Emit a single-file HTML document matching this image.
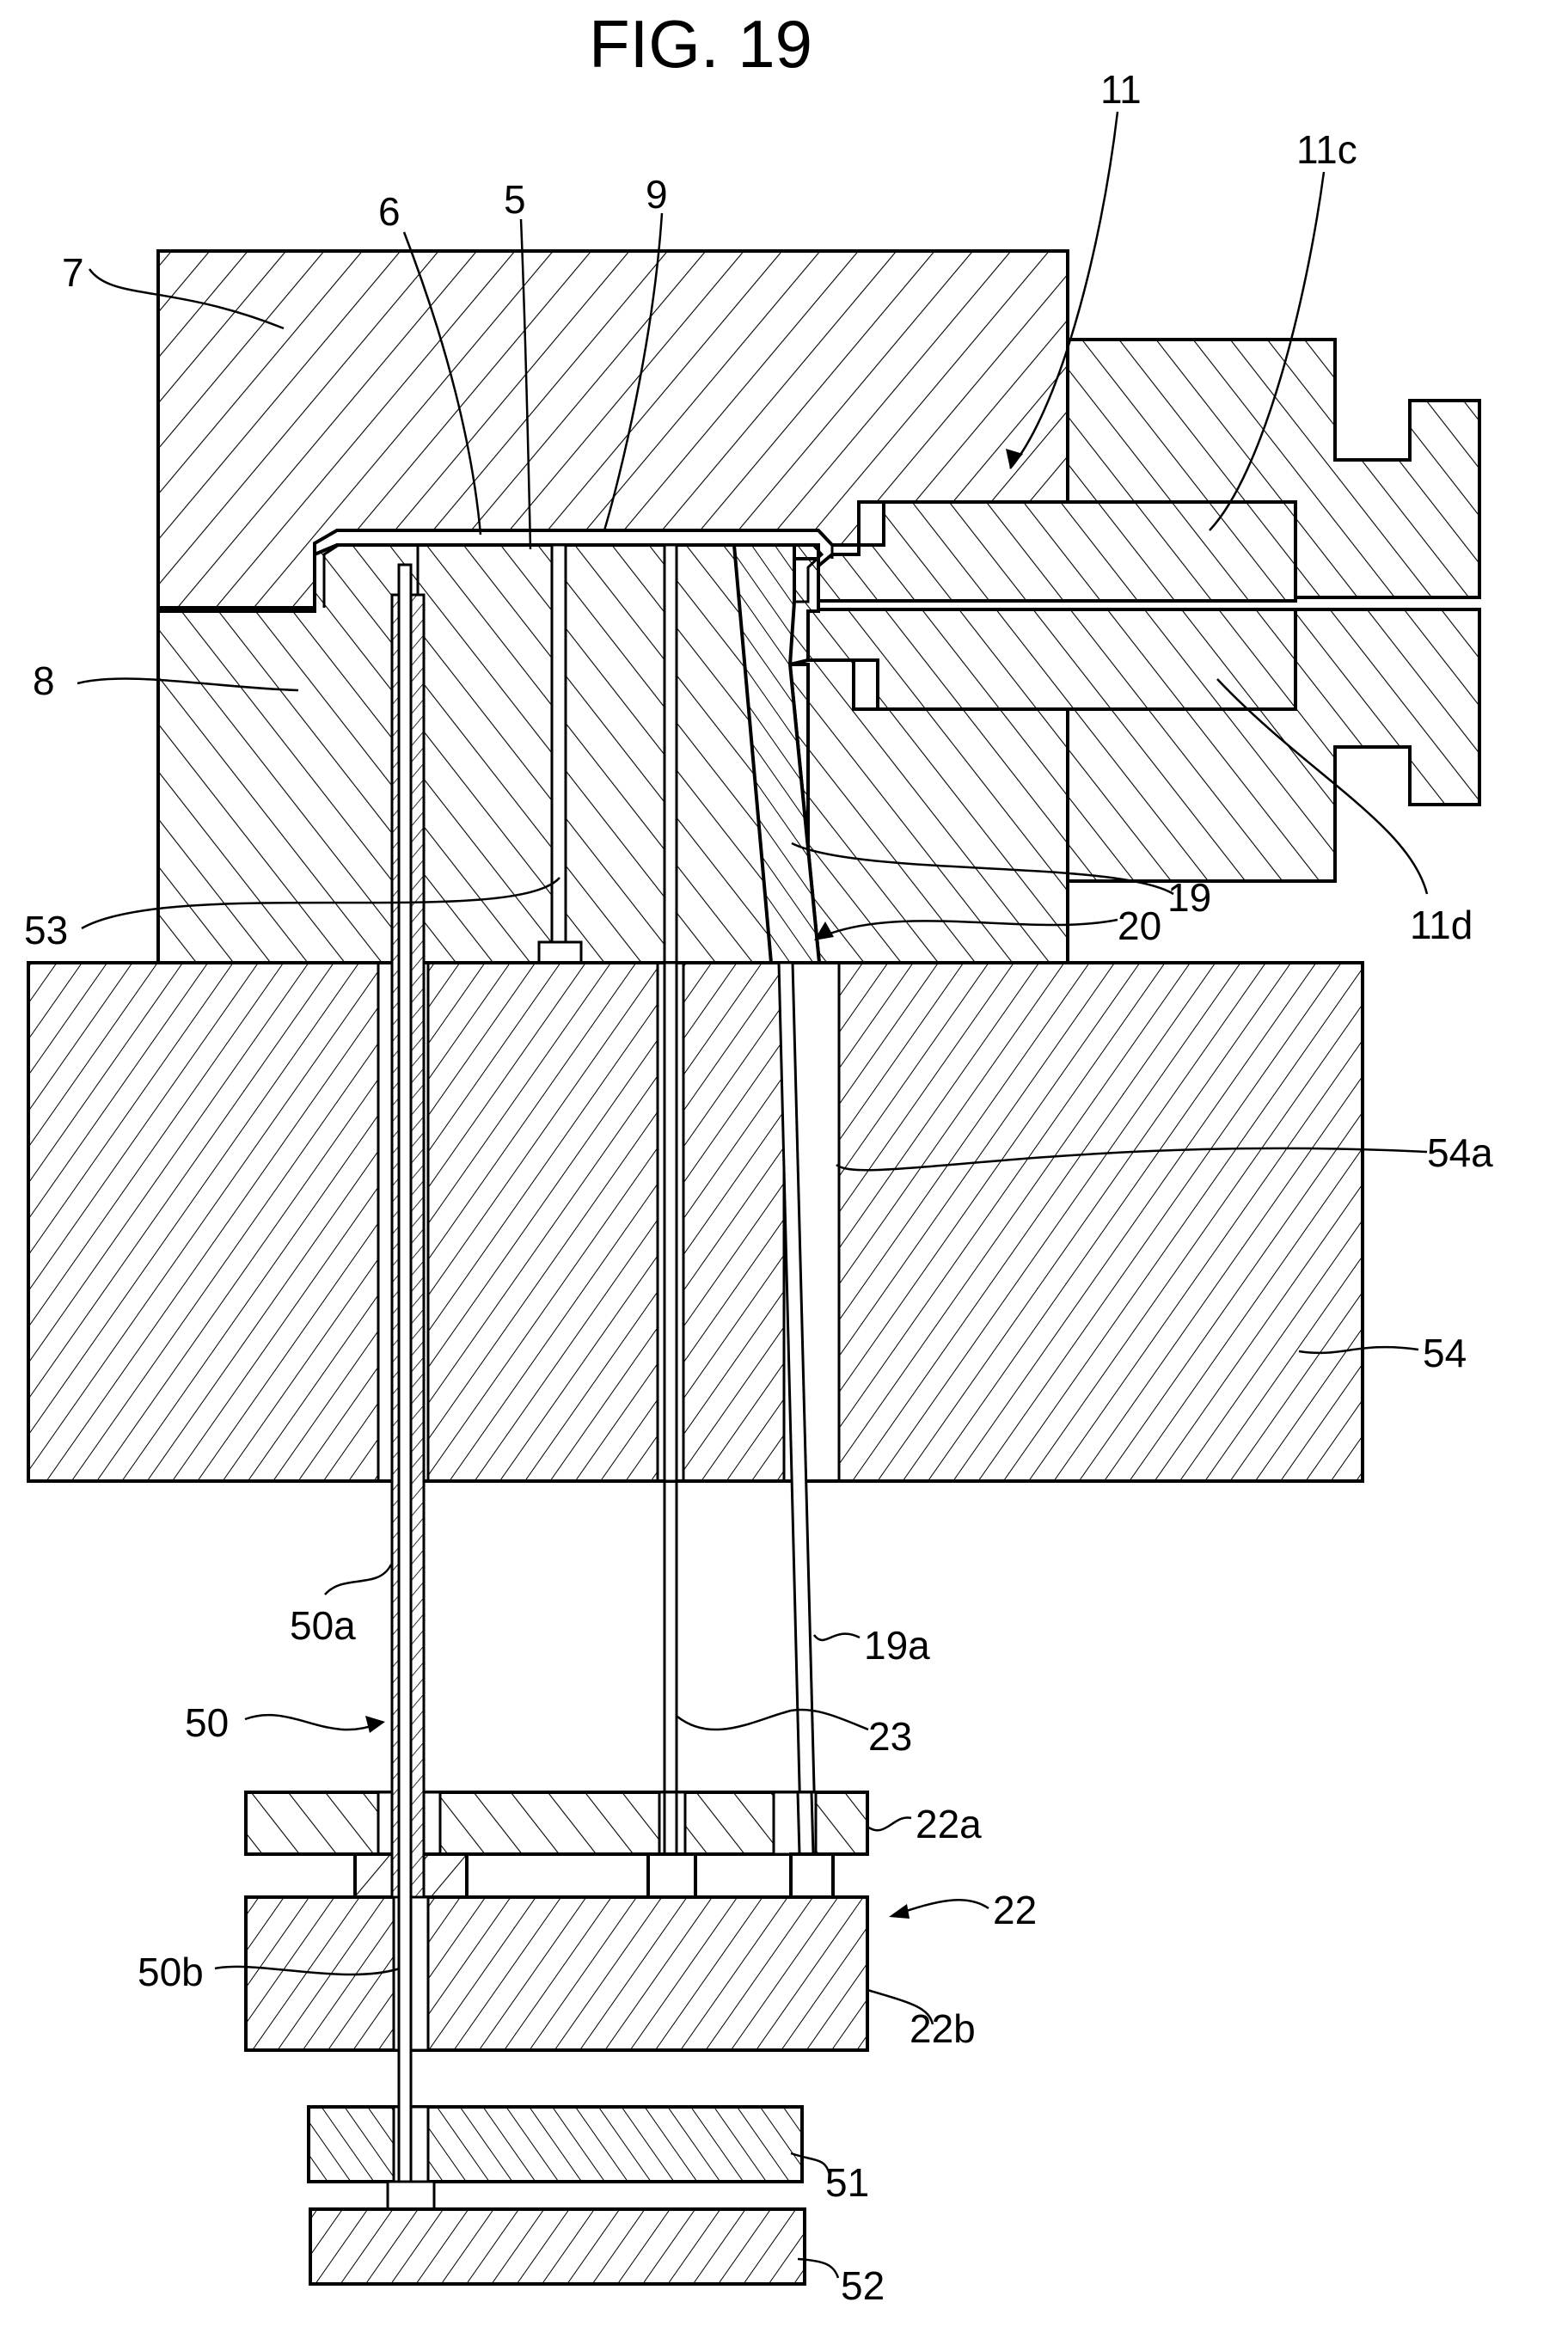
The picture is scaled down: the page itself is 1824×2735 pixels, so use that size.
<!DOCTYPE html>
<html><head><meta charset="utf-8"><style>html,body{margin:0;padding:0;background:#fff}svg{display:block}text{font-family:"Liberation Sans",sans-serif;fill:#000}</style></head>
<body>
<svg width="1824" height="2735" viewBox="0 0 1824 2735" xmlns="http://www.w3.org/2000/svg">
<defs>
<pattern id="hA" width="34" height="34" patternUnits="userSpaceOnUse" patternTransform="rotate(40)"><rect width="34" height="34" fill="#fff"/><line x1="0" y1="0" x2="0" y2="34" stroke="#000" stroke-width="2.2"/></pattern>
<pattern id="hB" width="34" height="34" patternUnits="userSpaceOnUse" patternTransform="rotate(-38)"><rect width="34" height="34" fill="#fff"/><line x1="0" y1="0" x2="0" y2="34" stroke="#000" stroke-width="2.2"/></pattern>
<pattern id="hC" width="24" height="24" patternUnits="userSpaceOnUse" patternTransform="rotate(35)"><rect width="24" height="24" fill="#fff"/><line x1="0" y1="0" x2="0" y2="24" stroke="#000" stroke-width="2"/></pattern>
<pattern id="hD" width="22" height="22" patternUnits="userSpaceOnUse" patternTransform="rotate(-35)"><rect width="22" height="22" fill="#fff"/><line x1="0" y1="0" x2="0" y2="22" stroke="#000" stroke-width="2"/></pattern>
<pattern id="hE" width="12" height="12" patternUnits="userSpaceOnUse" patternTransform="rotate(40)"><rect width="12" height="12" fill="#fff"/><line x1="0" y1="0" x2="0" y2="12" stroke="#000" stroke-width="1.6"/></pattern>
</defs>
<g stroke="#000" stroke-width="4" stroke-linejoin="miter">
<text x="815" y="78" font-size="78" text-anchor="middle" textLength="260" lengthAdjust="spacingAndGlyphs" stroke="none">FIG. 19</text>

<!-- block 7 -->
<polygon fill="url(#hA)" points="184,292 1242,292 1242,584 999,584 999,634 968,634 952,617 392,617 366,632 366,707 184,707"/>
<!-- upper right slider -->
<polygon fill="url(#hB)" points="1242,395 1553,395 1553,535 1640,535 1640,466 1721,466 1721,695 1242,695"/>
<!-- 11c -->
<polygon fill="url(#hB)" points="1028,584 1507,584 1507,699 950,699 950,660 968,645 999,645 999,634 1028,634"/>
<rect x="999" y="584" width="29" height="50" fill="#fff"/>
<!-- block 8 -->
<polygon fill="url(#hB)" points="184,711 366,711 366,645 392,634 952,634 952,711 993,711 993,825 1242,825 1242,1120 184,1120"/>
<!-- lower right slider -->
<polygon fill="url(#hB)" points="1242,709 1721,709 1721,936 1640,936 1640,869 1553,869 1553,1025 1242,1025"/>
<!-- 11d -->
<polygon fill="url(#hB)" points="940,709 1507,709 1507,825 1021,825 1021,768 940,768"/>
<rect x="993" y="768" width="28" height="57" fill="#fff"/>
<!-- part 20 -->
<polygon fill="url(#hB)" points="919,773 940,773 940,1120 953,1120" />
<polygon fill="url(#hB)" points="924,650 952,650 952,711 940,711 940,768 919,773"/>
<!-- lifter 19 -->
<polygon fill="url(#hD)" points="854,634 924,634 924,700 919,773 953,1120 897,1120"/>
<!-- product 9 -->
<polyline fill="none" stroke-width="3" points="366,707 366,632 392,617 952,617 968,634 968,650"/>
<polyline fill="none" stroke-width="3" points="377,707 377,645 394,634 946,634 956,645 940,660 940,700 924,700"/>
<line x1="486" y1="634" x2="486" y2="1120" stroke-width="3"/>
<!-- pin 5 / 53 -->
<rect x="642" y="634" width="16" height="462" fill="#fff" stroke-width="3"/>
<rect x="627" y="1096" width="49" height="24" fill="#fff" stroke-width="3"/>
<!-- pin 23 -->
<rect x="773" y="634" width="14" height="1545" fill="#fff" stroke-width="3"/>

<!-- block 54 -->
<rect x="33" y="1120" width="1552" height="603" fill="url(#hC)"/>
<rect x="440" y="1120" width="58" height="603" fill="#fff" stroke-width="3"/>
<rect x="765" y="1120" width="30" height="603" fill="#fff" stroke-width="3"/>
<rect x="912" y="1120" width="64" height="603" fill="#fff" stroke-width="3"/>
<line x1="33" y1="1723" x2="1585" y2="1723"/>
<line x1="33" y1="1120" x2="1585" y2="1120"/>
<rect x="773" y="1120" width="14" height="603" fill="#fff" stroke-width="3"/>
<!-- 19a -->
<polygon fill="#fff" stroke-width="3" points="906,1120 922,1120 949,2157 932,2157"/>

<!-- plate 22a -->
<rect x="286" y="2085" width="723" height="72" fill="url(#hB)"/>
<rect x="440" y="2085" width="72" height="72" fill="#fff" stroke-width="3"/>
<rect x="767" y="2085" width="30" height="72" fill="#fff" stroke-width="3"/>
<rect x="900" y="2085" width="49" height="72" fill="#fff" stroke-width="3"/>
<rect x="773" y="2085" width="14" height="72" fill="#fff" stroke-width="3"/>
<polygon fill="#fff" stroke-width="3" points="928,2085 944,2085 946,2157 930,2157"/>
<rect x="413" y="2157" width="130" height="50" fill="url(#hA)"/>
<rect x="754" y="2157" width="55" height="50" fill="#fff"/>
<rect x="920" y="2157" width="49" height="50" fill="#fff"/>
<!-- 22b -->
<rect x="286" y="2207" width="723" height="178" fill="url(#hC)"/>
<rect x="458" y="2207" width="40" height="178" fill="#fff" stroke-width="3"/>
<!-- 51, 52 -->
<rect x="359" y="2451" width="574" height="87" fill="url(#hD)"/>
<rect x="458" y="2451" width="40" height="87" fill="#fff" stroke-width="3"/>
<rect x="451" y="2538" width="54" height="32" fill="#fff" stroke-width="3"/>
<rect x="361" y="2570" width="575" height="87" fill="url(#hC)"/>

<!-- sleeve 50a -->
<rect x="456" y="692" width="37" height="1515" fill="url(#hE)" stroke-width="3"/>
<rect x="464" y="657" width="14" height="1881" fill="#fff" stroke-width="3"/>

<!-- leaders -->
<g fill="none" stroke-width="2.5">
<path d="M104,313 C130,350 200,330 330,382"/>
<path d="M90,795 C150,780 250,800 347,803"/>
<path d="M95,1080 C200,1020 600,1080 651,1021"/>
<path d="M470,270 C520,400 550,520 559,622"/>
<path d="M606,255 C612,400 615,550 617,639"/>
<path d="M770,248 C760,400 720,560 703,617"/>
<path d="M1300,130 C1280,300 1230,480 1175,545"/>
<path d="M1540,200 C1520,350 1470,550 1407,617"/>
<path d="M1416,790 C1520,900 1640,960 1660,1040"/>
<path d="M921,981 C1000,1020 1300,1000 1365,1040"/>
<path d="M955,1090 C1050,1050 1200,1090 1300,1070"/>
<path d="M973,1355 C1000,1380 1250,1320 1660,1340"/>
<path d="M1511,1572 C1560,1580 1580,1560 1650,1570"/>
<path d="M455,1820 C440,1850 400,1830 378,1855"/>
<path d="M947,1902 C960,1920 970,1890 1000,1905"/>
<path d="M285,2000 C340,1980 380,2030 440,2005"/>
<path d="M788,1997 C830,2030 880,2000 920,1990 C950,1985 980,2000 1010,2012"/>
<path d="M1009,2125 C1030,2140 1040,2110 1060,2115"/>
<path d="M1150,2220 C1120,2200 1080,2215 1039,2228"/>
<path d="M250,2290 C300,2280 400,2310 465,2290"/>
<path d="M1009,2315 C1060,2330 1080,2335 1085,2355"/>
<path d="M920,2505 C950,2515 960,2510 965,2530"/>
<path d="M928,2628 C960,2630 970,2635 975,2650"/>
</g>
<g stroke="none" fill="#000">
<polygon points="1175,545 1170,522 1190,528"/>
<polygon points="947,1094 960,1072 970,1090"/>
<polygon points="448,2003 425,1996 430,2016"/>
<polygon points="1034,2230 1055,2215 1058,2232"/>
</g>
</g>
<g font-size="46">
<text x="72" y="333">7</text>
<text x="38" y="808">8</text>
<text x="28" y="1098">53</text>
<text x="440" y="262">6</text>
<text x="586" y="248">5</text>
<text x="751" y="242">9</text>
<text x="1280" y="120">11</text>
<text x="1508" y="190">11c</text>
<text x="1640" y="1092">11d</text>
<text x="1358" y="1060">19</text>
<text x="1300" y="1093">20</text>
<text x="1660" y="1357">54a</text>
<text x="1655" y="1590">54</text>
<text x="337" y="1907">50a</text>
<text x="1005" y="1930">19a</text>
<text x="215" y="2020">50</text>
<text x="1010" y="2036">23</text>
<text x="1065" y="2138">22a</text>
<text x="1155" y="2238">22</text>
<text x="160" y="2310">50b</text>
<text x="1058" y="2376">22b</text>
<text x="960" y="2555">51</text>
<text x="978" y="2675">52</text>
</g>
</svg>
</body></html>
